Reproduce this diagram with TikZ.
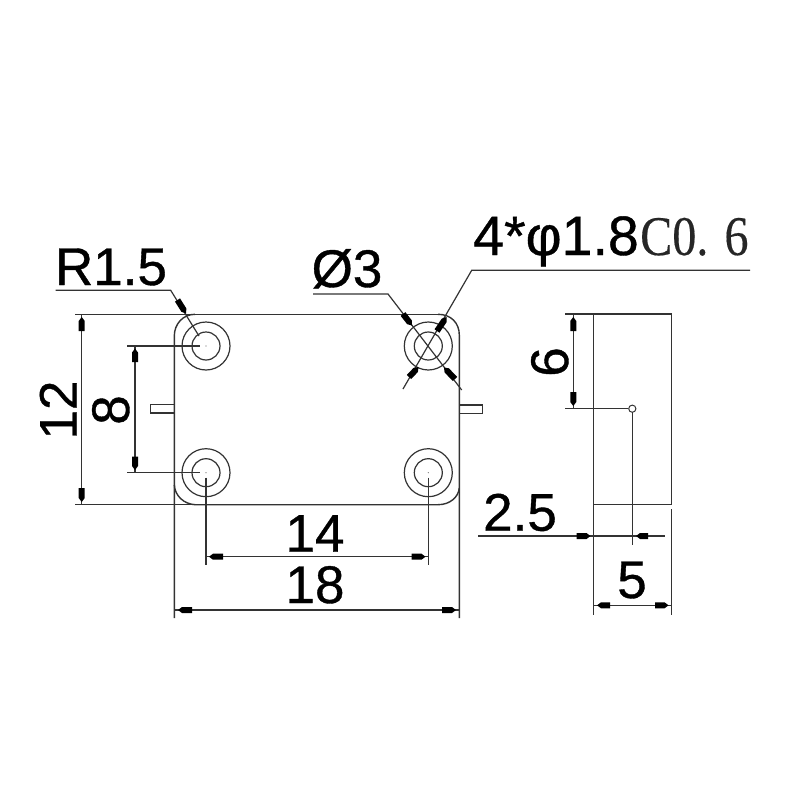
\documentclass[tikz,border=0pt]{standalone}
\usepackage{fontspec}
\setmainfont{Liberation Sans}
\newfontfamily\dimfont[FakeBold=0.7]{Liberation Sans}
\newfontfamily\serifpart[FakeBold=0.3]{Liberation Serif}
\usetikzlibrary{calc}
\tikzset{
  x=1pt,y=-1pt,
  body/.style={draw=black!80,line width=1.4pt},
  dimline/.style={draw=black!80,line width=1.2pt},
  dimlabel/.style={font=\dimfont\fontsize{53}{53}\selectfont,text=black,inner sep=0pt,anchor=base},
  ahead/.style={fill=black,draw=none}
}
\newcommand{\ahd}[2]{%
  \coordinate (ahT) at #1; \coordinate (ahB) at #2;
  \fill[ahead] (ahT) -- ($(ahT)!4pt!(ahB)!3pt!90:(ahB)$) -- ($(ahB)!3pt!-90:(ahT)$)
   -- ($(ahB)!3pt!90:(ahT)$) -- ($(ahT)!4pt!(ahB)!3pt!-90:(ahB)$) -- cycle;}
\begin{document}
\begin{tikzpicture}
\useasboundingbox[fill=white] (0,0) rectangle (800,800);
% hole centres
\coordinate (h1) at (206,346);
\coordinate (h2) at (428.3,346);
\coordinate (h3) at (206,472.7);
\coordinate (h4) at (428.3,472.7);
% body outline
\draw[body] (195,314.3) -- (438,314.3);
\draw[body] (438,314.3) .. controls (451,314.3) and (459.3,323) .. (459.3,335) -- (459.3,618);
\draw[body] (195,314.3) .. controls (183,314.3) and (174.3,324) .. (174.3,336) -- (174.3,618);
\draw[body] (174.3,485) .. controls (175,496) and (184,504) .. (195,504.7) -- (438,504.7)
  .. controls (450,504.7) and (458.5,497) .. (459.3,488);
% extension lines of the body
\draw[dimline] (75,314.3) -- (195,314.3);
\draw[dimline] (75,504.7) -- (193,504.7);
% pins
\draw[body,line width=1.2pt] (174.3,404.5) -- (150.5,404.5) -- (150.5,413) -- (174.3,413);
\draw[body,line width=1.2pt] (459.3,405) -- (482.7,405) -- (482.7,413.5) -- (459.3,413.5);
% holes
\foreach \h in {h1,h2,h3,h4}{
  \draw[body,line width=1.2pt] (\h) circle[radius=14];
  \draw[body,line width=1.2pt] (\h) circle[radius=24];
  \fill[black!60] (\h) circle[radius=0.6];
}
% dimension 12
\draw[dimline] (81.7,314.3) -- (81.7,504.7);
\ahd{(81.7,317)}{(81.7,331)}
\ahd{(81.7,502)}{(81.7,488)}
% dimension 8
\draw[dimline] (127,346) -- (200,346);
\draw[dimline] (127,472.7) -- (200,472.7);
\draw[dimline] (135,346) -- (135,472.7);
\ahd{(135,348.5)}{(135,362)}
\ahd{(135,470)}{(135,456.5)}
% dimension 14
\draw[dimline] ($(h3)+(0,5)$) -- (206,565);
\draw[dimline] ($(h4)+(0,5)$) -- (428.3,565);
\draw[dimline] (206,556.7) -- (428.3,556.7);
\ahd{(209,556.7)}{(223,556.7)}
\ahd{(425.5,556.7)}{(411.5,556.7)}
% dimension 18
\draw[dimline] (174.3,610) -- (459.3,610);
\ahd{(178,610)}{(192,610)}
\ahd{(456,610)}{(442,610)}
% leader R1.5
\draw[dimline] (55.7,290.3) -- (170.7,290.3) -- (199,336);
\ahd{(186,313.5)}{(177.5,300)}
% leader diameter 3
\draw[dimline] (313,294) -- (388,294) -- (461.7,390);
\ahd{(412,325.5)}{(403,314)}
\ahd{(444,367.5)}{(455,379)}
% leader 4*phi
\draw[dimline] (750,270.3) -- (471.7,270.3) -- (403,389);
\ahd{(446.5,317)}{(437,331)}
\ahd{(418.5,367)}{(409,377)}
% side view
\draw[body] (593.7,314) rectangle (671.7,504.3);
\draw[dimline] (565,314) -- (593.7,314);
\draw[dimline] (565,408.7) -- (628.3,408.7);
\draw[dimline] (573.3,314) -- (573.3,408.7);
\ahd{(573.3,317)}{(573.3,331)}
\ahd{(573.3,406)}{(573.3,392)}
\draw[body,line width=1pt] (632.3,408.7) circle[radius=3.6];
\draw[dimline] (632.3,412.3) -- (632.3,545);
% dimension 2.5
\draw[dimline] (478,536) -- (665,536);
\ahd{(590.5,536)}{(576.5,536)}
\ahd{(636,536)}{(648,536)}
\draw[dimline] (593.7,504.3) -- (593.7,615);
\draw[dimline] (671.7,509) -- (671.7,615);
% dimension 5
\draw[dimline] (593.7,605.3) -- (671.7,605.3);
\ahd{(597,605.3)}{(610,605.3)}
\ahd{(668.5,605.3)}{(655,605.3)}
% labels
\node[dimlabel] (lR) at (111,285) {R1.5};
\node[dimlabel] (lD) at (347,287) {Ø3};
\node[dimlabel,anchor=base west,font=\dimfont\fontsize{55.5}{55.5}\selectfont] (lP) at (473,255) {4*φ1.8};
\node[dimlabel,anchor=base west,font=\serifpart\fontsize{56}{56}\selectfont,xscale=.86,text=black!85] (lC) at (640,255) {C0.\,\,6};
\node[dimlabel,rotate=90] (l12) at (76.7,410) {12};
\node[dimlabel,rotate=90] (l8) at (129,410) {8};
\node[dimlabel,rotate=90] (l6) at (568,362) {6};
\node[dimlabel] (l14) at (315,551.7) {14};
\node[dimlabel] (l18) at (315,603) {18};
\node[dimlabel] (l25) at (520,530.7) {2.5};
\node[dimlabel] (l5) at (632,598) {5};
\end{tikzpicture}
\end{document}
